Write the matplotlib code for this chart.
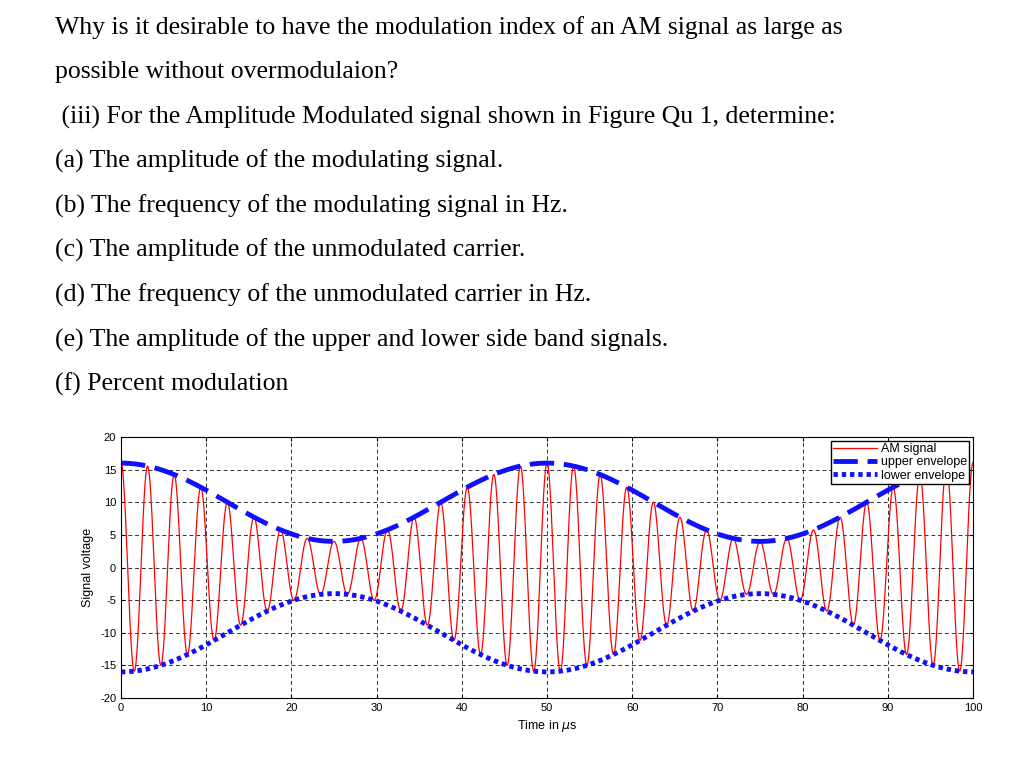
import numpy as np
import matplotlib.pyplot as plt

plt.rcParams['axes.unicode_minus'] = False

# Texto de la pregunta
lineas = [
    "Why is it desirable to have the modulation index of an AM signal as large as",
    "possible without overmodulaion?",
    " (iii) For the Amplitude Modulated signal shown in Figure Qu 1, determine:",
    "(a) The amplitude of the modulating signal.",
    "(b) The frequency of the modulating signal in Hz.",
    "(c) The amplitude of the unmodulated carrier.",
    "(d) The frequency of the unmodulated carrier in Hz.",
    "(e) The amplitude of the upper and lower side band signals.",
    "(f) Percent modulation",
]
lineas_y = [28, 72, 117, 161, 206, 250, 295, 340, 384]  # pixeles desde arriba

# Parametros de la señal AM
amp_portadora = 10.0     # V
amp_moduladora = 6.0     # V
periodo_mod = 50.0       # us
periodo_port = 3.125     # us
x_ticks = [0, 10, 20, 30, 40, 50, 60, 70, 80, 90, 100]
y_ticks = [-20, -15, -10, -5, 0, 5, 10, 15, 20]

t = np.linspace(0, 100, 4000)
env = amp_portadora + amp_moduladora * np.cos(2 * np.pi * t / periodo_mod)
am = env * np.cos(2 * np.pi * t / periodo_port)

fig = plt.figure(figsize=(10.24, 7.76), dpi=100)
for txt, yp in zip(lineas, lineas_y):
    fig.text(55 / 1024, 1 - yp / 776, txt, family='Liberation Serif',
             fontsize=18.5, va='center', ha='left')

ax = fig.add_axes([121 / 1024, 1 - 698 / 776, (973 - 121) / 1024, (698 - 437) / 776])
ax.plot(t, am, color='red', lw=0.9, label='AM signal')
ax.plot(t, env, color='#1010ff', lw=3.5, ls=(0, (5, 2)), label='upper envelope')
ax.plot(t, -env, color='#1010ff', lw=3.5, ls=(0, (0.9, 0.8)), label='lower envelope')
ax.set_xlim(0, 100)
ax.set_ylim(-20, 20)
ax.set_xticks(x_ticks)
ax.set_yticks(y_ticks)
ax.tick_params(labelsize=8, length=3, direction='in', top=True, right=True)
for lab in ax.get_xticklabels() + ax.get_yticklabels():
    lab.set_family('Liberation Sans')
ax.grid(True, color='#333333', ls=(0, (4, 3)), lw=0.7)
ax.set_xlabel('Time in $\\mu$s', fontsize=9, family='Liberation Sans')
ax.set_ylabel('Signal voltage', fontsize=9, family='Liberation Sans')
leg = ax.legend(loc='upper right', fontsize=9, fancybox=False, edgecolor='black',
                framealpha=1, borderpad=0.2, labelspacing=0.1, handlelength=3.5,
                handletextpad=0.3, borderaxespad=0.3, prop={'family': 'Liberation Sans', 'size': 9})

fig.savefig('out.png', dpi=100)
